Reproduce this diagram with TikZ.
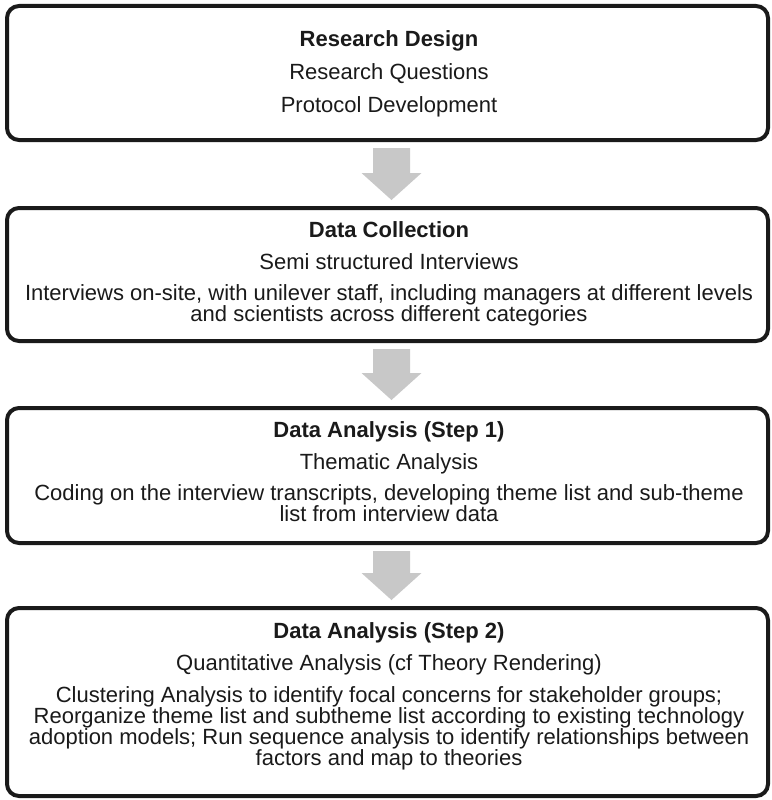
\documentclass[tikz,border=0pt]{standalone}
\usepackage{fontspec}
\setmainfont{Liberation Sans}
\usetikzlibrary{calc}
\definecolor{ink}{RGB}{26,26,26}
\definecolor{flowgray}{RGB}{200,200,200}
% gray block arrow from the bottom of one stage to the top of the next
\newcommand\stagearrow[2]{%
  \fill[flow] ($(#1.south)+(-14.5,8)$) -- ($(#1.south)+(22.5,8)$)
    -- ($(#2.north)+(22.5,-35)$) -- ($(#2.north)+(34,-35)$)
    -- ($(#2.north)+(4,-8)$)
    -- ($(#2.north)+(-26,-35)$) -- ($(#2.north)+(-14.5,-35)$) -- cycle;}
\begin{document}
\begin{tikzpicture}[x=1pt,y=-1pt,
  stage/.style={draw=ink, line width=4pt, rounded corners=12pt,
    minimum width=761pt, inner sep=0pt, outer sep=0pt, fill=white},
  % multi-line labels are placed by the baseline of their last line
  label/.style={anchor=base, align=center, inner sep=0pt, text=ink,
    font=\fontsize{22}{21}\selectfont},
  heading/.style={label, font=\bfseries\fontsize{22}{21}\selectfont},
  flow/.style={fill=flowgray, draw=none}]
\useasboundingbox (0,0) rectangle (771,800);
\fill[white] (0,0) rectangle (771,800);

% stages
\node[stage, minimum height=134pt] (b1) at (387.5,73) {};
\node[stage, minimum height=133pt] (b2) at (387.5,274.5) {};
\node[stage, minimum height=135pt] (b3) at (387.5,475.5) {};
\node[stage, minimum height=188pt] (b4) at (387.5,702) {};

% stage texts
\node[heading] (t1) at (389,47) {Research Design};
\node[label] (q1) at (389,80) {Research Questions};
\node[label] (p1) at (389,112) {Protocol Development};

\node[heading] (t2) at (389,237) {Data Collection};
\node[label] (q2) at (389,269) {Semi structured Interviews};
\node[label] (p2) at (389,321) {Interviews on-site, with unilever staff, including managers at different levels\\and scientists across different categories};

\node[heading] (t3) at (389,437) {Data Analysis (Step 1)};
\node[label] (q3) at (389,469) {Thematic Analysis};
\node[label] (p3) at (389,521) {Coding on the interview transcripts, developing theme list and sub-theme\\list from interview data};

\node[heading] (t4) at (389,638) {Data Analysis (Step 2)};
\node[label] (q4) at (389,670) {Quantitative Analysis (cf Theory Rendering)};
\node[label] (p4) at (389,765) {Clustering Analysis to identify focal concerns for stakeholder groups;\\Reorganize theme list and subtheme list according to existing technology\\adoption models; Run sequence analysis to identify relationships between\\factors and map to theories};

% flow arrows
\stagearrow{b1}{b2}
\stagearrow{b2}{b3}
\stagearrow{b3}{b4}
\end{tikzpicture}
\end{document}
